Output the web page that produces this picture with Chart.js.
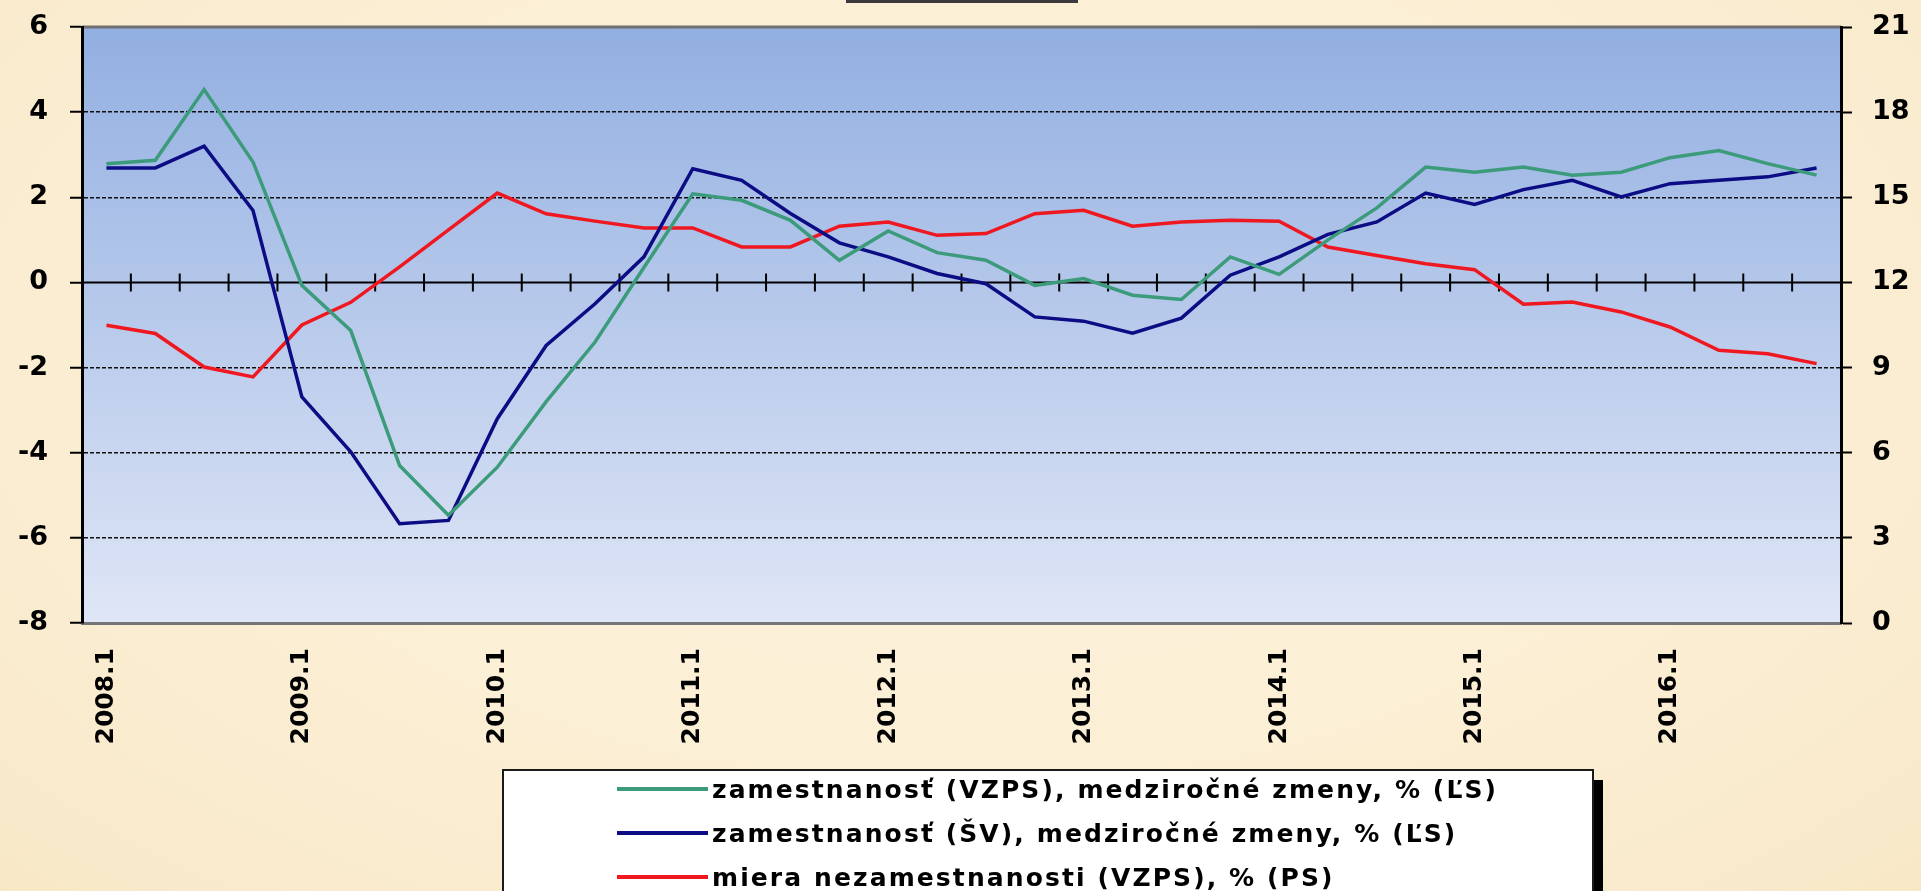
<!DOCTYPE html>
<html>
<head>
<meta charset="utf-8">
<script src="https://cdn.jsdelivr.net/npm/chart.js@4.4.0/dist/chart.umd.min.js"></script>
<style>
  html, body { margin: 0; padding: 0; overflow: hidden; background: #fbefd5; }
  #wrap { position: relative; width: 1921px; height: 891px;
          background: radial-gradient(ellipse at 50% 40%, #fdf3de 0%, #fbefd5 55%, #f8e8c8 100%); }
  #titleEdge { position: absolute; left: 846px; top: 0; width: 232px; height: 3px; background: #3a3a3a; }
  #legend { position: absolute; left: 502px; top: 769px; width: 1088px; height: 140px;
            background: #fff; border: 2px solid #1a1a1a; box-shadow: 9px 11px 0 #000; }
  #legend ul { list-style: none; margin: -4px 0 0 0; padding: 0; }
  #legend li { display: flex; align-items: center; height: 44px; padding-left: 113px;
               font: bold 25px "DejaVu Sans"; letter-spacing: 2.1px; color: #000; white-space: nowrap; }
  #legend li span.sw { display: inline-block; width: 91px; height: 4px; margin-right: 4px; }
</style>
</head>
<body>
<div id="wrap">
  <canvas id="chart" width="1921" height="891"></canvas>
  <div id="titleEdge"></div>
  <div id="legend"></div>
</div>
<script>
// quarters 2008Q1 .. 2016Q4
const categories = [
  '2008.1', '2008.2', '2008.3', '2008.4', '2009.1', '2009.2', '2009.3', '2009.4',
  '2010.1', '2010.2', '2010.3', '2010.4', '2011.1', '2011.2', '2011.3', '2011.4',
  '2012.1', '2012.2', '2012.3', '2012.4', '2013.1', '2013.2', '2013.3', '2013.4',
  '2014.1', '2014.2', '2014.3', '2014.4', '2015.1', '2015.2', '2015.3', '2015.4',
  '2016.1', '2016.2', '2016.3', '2016.4'
];

// employment (LFS), y/y change, % - left axis
const empVzps = [
  2.79, 2.87, 4.53, 2.83, -0.07, -1.13, -4.3, -5.47, -4.34, -2.8, -1.4, 0.35,
  2.08, 1.93, 1.46, 0.52, 1.21, 0.7, 0.52, -0.07, 0.09, -0.3, -0.4, 0.6,
  0.19, 1.0, 1.75, 2.71, 2.59, 2.71, 2.52, 2.59, 2.93, 3.1, 2.79, 2.52
];

// employment (statistical reporting), y/y change, % - left axis
const empSv = [
  2.69, 2.69, 3.2, 1.69, -2.69, -3.98, -5.67, -5.59, -3.2, -1.48, -0.5, 0.6,
  2.67, 2.4, 1.62, 0.93, 0.6, 0.21, -0.03, -0.81, -0.91, -1.19, -0.84, 0.17,
  0.6, 1.13, 1.42, 2.1, 1.83, 2.18, 2.4, 2.01, 2.32, 2.4, 2.48, 2.69
];

// unemployment rate (LFS), % - right axis
const unemp = [
  10.49, 10.2, 9.02, 8.67, 10.5, 11.3, 12.55, 13.85, 15.15, 14.42, 14.16, 13.92,
  13.92, 13.25, 13.25, 13.98, 14.13, 13.66, 13.72, 14.42, 14.54, 13.98, 14.13, 14.19,
  14.16, 13.25, 12.95, 12.66, 12.45, 11.23, 11.31, 10.96, 10.43, 9.61, 9.49, 9.14
];

const seriesLabels = [
  'zamestnanosť (VZPS), medziročné zmeny, % (ĽS)',
  'zamestnanosť (ŠV), medziročné zmeny, % (ĽS)',
  'miera nezamestnanosti (VZPS), % (PS)'
];

const leftTicks = [-8, -6, -4, -2, 0, 2, 4, 6];
const rightTicks = [0, 3, 6, 9, 12, 15, 18, 21];
const dashedAt = [4, 2, -2, -4, -6];

// plot background, top frame line and the zero axis with its tick marks
const plotDecor = {
  id: 'plotDecor',
  beforeDraw(chart) {
    const { ctx, chartArea: a } = chart;
    const g = ctx.createLinearGradient(0, a.top, 0, a.bottom);
    g.addColorStop(0, '#92afe1');
    g.addColorStop(1, '#dfe6f6');
    ctx.save();
    ctx.fillStyle = g;
    ctx.fillRect(a.left, a.top, a.right - a.left, a.bottom - a.top);
    ctx.strokeStyle = '#707070';
    ctx.lineWidth = 3;
    ctx.beginPath();
    ctx.moveTo(a.left, a.top);
    ctx.lineTo(a.right, a.top);
    ctx.stroke();
    ctx.restore();
  },
  beforeDatasetsDraw(chart) {
    const { ctx, chartArea: a, scales } = chart;
    const y0 = scales.y.getPixelForValue(0);
    ctx.save();
    ctx.strokeStyle = '#000';
    ctx.lineWidth = 2;
    ctx.beginPath();
    ctx.moveTo(a.left, y0);
    ctx.lineTo(a.right, y0);
    for (let i = 1; i < categories.length; i++) {
      const x = (scales.x.getPixelForValue(i - 1) + scales.x.getPixelForValue(i)) / 2;
      ctx.moveTo(x, y0 - 9);
      ctx.lineTo(x, y0 + 9);
    }
    ctx.stroke();
    ctx.restore();
  }
};

Chart.defaults.font.family = 'DejaVu Sans';
Chart.defaults.font.weight = 'bold';
Chart.defaults.color = '#000';

const ctx = document.getElementById('chart').getContext('2d');
const chart = new Chart(ctx, {
  type: 'line',
  data: {
    labels: categories,
    datasets: [
      { label: seriesLabels[0], data: empVzps, yAxisID: 'y', borderColor: '#3c9b7a', borderWidth: 3.5, pointRadius: 0, tension: 0 },
      { label: seriesLabels[1], data: empSv, yAxisID: 'y', borderColor: '#0c0c84', borderWidth: 3.5, pointRadius: 0, tension: 0 },
      { label: seriesLabels[2], data: unemp, yAxisID: 'y2', borderColor: '#f01820', borderWidth: 3.5, pointRadius: 0, tension: 0 }
    ]
  },
  options: {
    responsive: false,
    animation: false,
    layout: { padding: { left: 0, right: 0, top: 27, bottom: 148 } },
    plugins: {
      legend: { display: false },
      tooltip: { enabled: false }
    },
    scales: {
      x: {
        type: 'category',
        offset: true,
        afterFit: (s) => { s.height = 120; s.paddingLeft = 0; s.paddingRight = 0; },
        grid: { display: false, drawTicks: false },
        border: { display: true, color: '#767676', width: 3 },
        ticks: {
          autoSkip: false,
          minRotation: 90,
          maxRotation: 90,
          padding: 25,
          font: { size: 25, weight: 'bold' },
          callback: (v, i) => categories[i].endsWith('.1') ? categories[i] : ''
        }
      },
      y: {
        position: 'left',
        min: leftTicks[0],
        max: leftTicks[leftTicks.length - 1],
        afterFit: (s) => { s.width = 82; s.paddingTop = 0; s.paddingBottom = 0; },
        afterBuildTicks: (s) => { s.ticks = leftTicks.map(v => ({ value: v })); },
        grid: {
          color: (c) => dashedAt.includes(c.tick && c.tick.value) ? '#111' : 'rgba(0,0,0,0)',
          lineWidth: 1.5,
          tickColor: '#000',
          tickLength: 12,
          tickWidth: 2
        },
        border: { display: true, color: '#000', width: 3, dash: [4, 2] },
        ticks: { padding: 22, font: { size: 27, weight: 'bold' } }
      },
      y2: {
        position: 'right',
        min: rightTicks[0],
        max: rightTicks[rightTicks.length - 1],
        afterFit: (s) => { s.width = 80; s.paddingTop = 0; s.paddingBottom = 0; },
        afterBuildTicks: (s) => { s.ticks = rightTicks.map(v => ({ value: v })); },
        grid: { drawOnChartArea: false, tickColor: '#000', tickLength: 11, tickWidth: 2 },
        border: { display: true, color: '#000', width: 3 },
        ticks: { padding: 20, font: { size: 27, weight: 'bold' } }
      }
    }
  },
  plugins: [plotDecor]
});

// legend box built from the chart's own legend items
function buildLegend(chart) {
  const items = chart.options.plugins.legend.labels.generateLabels(chart);
  const ul = document.createElement('ul');
  items.forEach(item => {
    const li = document.createElement('li');
    const sw = document.createElement('span');
    sw.className = 'sw';
    sw.style.background = item.strokeStyle;
    li.appendChild(sw);
    li.appendChild(document.createTextNode(item.text));
    ul.appendChild(li);
  });
  document.getElementById('legend').appendChild(ul);
}
buildLegend(chart);
</script>
</body>
</html>
